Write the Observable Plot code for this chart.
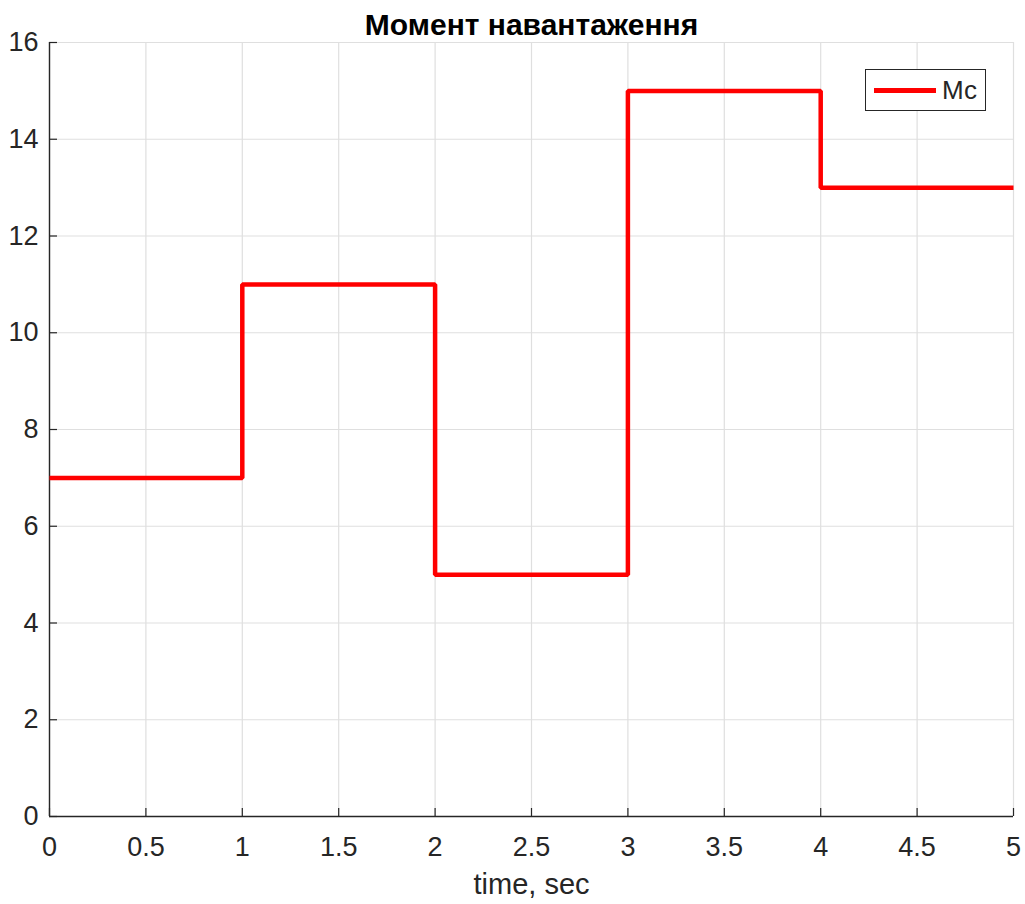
<!DOCTYPE html>
<html>
<head>
<meta charset="utf-8">
<script src="https://cdn.jsdelivr.net/npm/d3@7"></script>
<script src="https://cdn.jsdelivr.net/npm/@observablehq/plot@0.6"></script>
<style>
  body { margin: 0; background: #fff; font-family: "Liberation Sans", Arial, sans-serif; }
  #wrap { position: relative; width: 1025px; height: 904px; }
  #legend { position: absolute; left: 865px; top: 69px; width: 121px; height: 42px; box-sizing: border-box;
    border: 1.3px solid #262626; background: #fff; display: flex; align-items: center; }
  #legend .sw { width: 62px; height: 5px; background: #ff0000; margin-left: 8px; margin-right: 6px; }
  #legend .lb { font-size: 26px; color: #262626; }
</style>
</head>
<body>
<div id="wrap">
  <div id="legend"><span class="sw"></span><span class="lb">Мс</span></div>
</div>
<script>
const title = "Момент навантаження";
const xLabel = "time, sec";
const seriesName = "Мс";
const time = [0, 1, 2, 3, 4, 5];
const torque = [7, 11, 5, 15, 13, 13];
const xTicks = [0, 0.5, 1, 1.5, 2, 2.5, 3, 3.5, 4, 4.5, 5];
const yTicks = [0, 2, 4, 6, 8, 10, 12, 14, 16];

const data = time.map((t, i) => ({t, v: torque[i]}));
const ink = "#262626";
const gridColor = "#dfdfdf";

const chart = Plot.plot({
  width: 1025,
  height: 904,
  marginTop: 42,
  marginBottom: 88,
  marginLeft: 49,
  marginRight: 12,
  style: {fontFamily: "'Liberation Sans', Arial, sans-serif", color: ink, background: "#fff"},
  x: {domain: [0, 5]},
  y: {domain: [0, 16]},
  marks: [
    Plot.gridX(xTicks, {stroke: gridColor, strokeOpacity: 1, strokeWidth: 1.2}),
    Plot.gridY(yTicks, {stroke: gridColor, strokeOpacity: 1, strokeWidth: 1.2}),
    Plot.axisX(xTicks, {tickSize: -8, text: null, stroke: ink, strokeWidth: 1.2, label: null}),
    Plot.axisY(yTicks, {tickSize: -8, text: null, stroke: ink, strokeWidth: 1.2, label: null}),
    Plot.axisX(xTicks, {tickSize: 0, tickPadding: 20, fontSize: 27, fill: ink, label: null, tickFormat: d => String(d)}),
    Plot.axisY(yTicks, {tickSize: 0, tickPadding: 11, fontSize: 27, fill: ink, label: null, tickFormat: d => String(d)}),
    Plot.ruleX([0], {stroke: ink, strokeWidth: 1.4}),
    Plot.ruleY([0], {stroke: ink, strokeWidth: 1.4}),
    Plot.line(data, {x: "t", y: "v", curve: "step-after", stroke: "#ff0000", strokeWidth: 4.5, strokeLinejoin: "miter", strokeLinecap: "butt"}),
    Plot.text([title], {frameAnchor: "top", dy: -8, lineAnchor: "bottom", fontSize: 30, fontWeight: "bold", fill: "#000"}),
    Plot.text([xLabel], {frameAnchor: "bottom", dy: 68, lineAnchor: "middle", fontSize: 29, fill: ink})
  ]
});
document.getElementById("wrap").prepend(chart);
</script>
</body>
</html>
